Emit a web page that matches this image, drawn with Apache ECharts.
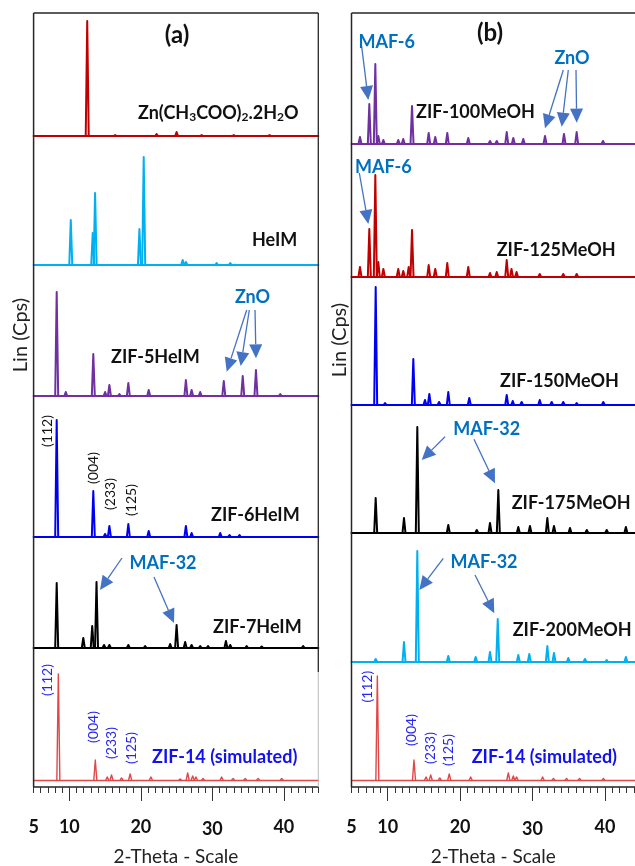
<!DOCTYPE html>
<html>
<head>
<meta charset="utf-8">
<script src="https://cdn.jsdelivr.net/npm/echarts@6/dist/echarts.min.js"></script>
<style>
html,body{margin:0;padding:0;background:#fff;}
#chart{width:635px;height:866px;}
</style>
</head>
<body>
<div id="chart"></div>
<script>
// ---------- DATA: peaks as [2-theta (deg), relative intensity] ----------
// Panel (a)
const zincAcetate = [[12.5,115],[16.4,1],[22.2,2],[25.0,4],[28.5,1],[33.0,1],[38.0,1]];
const heim = [[10.2,45],[13.27,32],[13.6,72],[19.8,36],[20.4,108],[25.85,5],[26.3,3],[30.6,2],[32.5,2]];
const zif5HeIM = [[8.23,104],[9.5,4],[13.35,42],[15.0,4],[15.6,11],[17.0,2],[18.25,13],[21.1,6],[26.3,16],[27.1,6],[28.3,4],[31.6,15],[34.25,20],[36.1,26],[39.5,2]];
const zif6HeIM = [[8.23,117],[13.35,46],[15.0,3],[15.6,11],[18.25,13],[21.1,6],[26.3,11],[27.1,4],[31.1,4],[32.4,2],[33.8,2]];
const zif7HeIM = [[8.23,65],[11.95,10],[13.2,22],[13.8,66],[14.85,3],[15.6,3],[18.25,3],[20.6,2],[24.1,4],[25.0,23],[26.2,6],[27.1,3],[28.3,2],[29.4,2],[31.9,7],[32.5,3],[34.8,2],[36.9,1.5],[42.7,2]];
const zif14SimA = [[8.46,106],[13.63,20],[15.3,3],[15.9,5],[17.3,2],[18.5,6],[21.4,3],[25.5,1],[26.55,7],[27.25,4],[27.7,3],[28.7,1.5],[31.3,3],[32.9,1.5],[34.6,1.5],[36.4,1.5],[39.7,1.5]];
// Panel (b)
const zif100MeOH = [[6.17,7],[7.46,40],[8.29,80],[8.7,8],[9.4,4],[11.46,4],[12.15,5],[13.36,38],[15.66,11],[16.57,7],[18.23,11],[21.13,6],[24.13,3],[25.06,3],[26.44,12],[27.35,6],[28.73,5],[31.73,8],[34.35,10],[36.1,12],[39.74,3]];
const zif125MeOH = [[6.17,10],[7.46,48],[8.29,102],[8.7,15],[9.4,8],[11.46,8],[12.15,6],[12.9,10],[13.36,47],[15.66,12],[16.57,8],[18.23,14],[21.13,10],[24.13,4],[25.06,5],[26.44,17],[27.1,8],[27.8,5],[31.0,3],[34.25,3],[36.1,3]];
const zif150MeOH = [[8.34,118],[9.63,2],[13.54,46],[15.15,5],[15.75,11],[17.1,3],[18.37,13],[21.27,7],[26.44,10],[27.27,4],[28.5,3],[31.0,5],[32.65,3],[34.25,3],[36.1,2],[39.78,3]];
const zif175MeOH = [[8.34,35],[12.25,15],[14.09,106],[18.37,8],[22.3,3],[24.13,10],[25.28,43],[28.04,6],[29.65,7],[32.05,15],[32.97,7],[35.18,5],[37.5,3],[40.25,3],[42.9,6]];
const zif200MeOH = [[8.34,3],[12.25,20],[14.09,111],[18.37,6],[22.15,5],[24.13,10],[25.2,43],[28.04,7],[29.56,8],[32.05,16],[32.97,9],[34.95,4],[37.25,3],[40.25,2],[42.9,5]];
const zif14SimB = [[8.57,104],[13.63,20],[15.3,3],[15.94,5],[17.2,2],[18.5,6],[21.46,3],[26.66,7],[27.35,4],[27.8,3],[31.4,3],[32.9,1.5],[34.7,1.5],[36.5,1.5],[39.8,1.5]];

const majorTicks = [10, 20, 30, 40];
const tickLabels = [5, 10, 20, 30, 40];
const hklLabels = ['(112)', '(004)', '(233)', '(125)'];

// ---------- LAYOUT ----------
const FONT = 'Lato';
const H = 130;
const panelA = {left: 33.6, width: 284.7, min: 5, max: 44.82};
const panelB = {left: 351.5, width: 283.5, min: 5, max: 44.16};
const AXIS_TOP = 13, AXIS_Y = 787;

const traces = [
  {data: zincAcetate, color: '#C00000', base: 136, panel: panelA, lw: 2},
  {data: heim, color: '#00B0F0', base: 265, panel: panelA, lw: 2},
  {data: zif5HeIM, color: '#7030A0', base: 396, panel: panelA, lw: 2},
  {data: zif6HeIM, color: '#0000F0', base: 537, panel: panelA, lw: 2},
  {data: zif7HeIM, color: '#000000', base: 648, panel: panelA, lw: 2},
  {data: zif14SimA, color: '#E04848', base: 780, panel: panelA, lw: 1.4},
  {data: zif100MeOH, color: '#7030A0', base: 144, panel: panelB, lw: 2},
  {data: zif125MeOH, color: '#C00000', base: 277, panel: panelB, lw: 2},
  {data: zif150MeOH, color: '#0000F0', base: 405, panel: panelB, lw: 2},
  {data: zif175MeOH, color: '#000000', base: 533, panel: panelB, lw: 2},
  {data: zif200MeOH, color: '#00B0F0', base: 662, panel: panelB, lw: 2},
  {data: zif14SimB, color: '#E04848', base: 780, panel: panelB, lw: 1.4}
];

const grids = [], xAxes = [], yAxes = [], series = [];

function peakRenderer(color, lw) {
  return function (params, api) {
    const b = api.coord([api.value(0), 0]);
    const t = api.coord([api.value(0), api.value(1)]);
    const hw = 1.5;
    return {
      type: 'polyline',
      shape: {points: [[b[0] - hw, b[1]], [t[0], t[1]], [b[0] + hw, b[1]]]},
      style: {stroke: color, lineWidth: lw, fill: null, lineJoin: 'round'}
    };
  };
}

traces.forEach((tr, i) => {
  grids.push({left: tr.panel.left, width: tr.panel.width, top: tr.base - H, height: H,
    containLabel: false, outerBoundsMode: 'none'});
  xAxes.push({
    type: 'value', gridIndex: i, min: tr.panel.min, max: tr.panel.max,
    axisLine: {show: true, onZero: false, lineStyle: {color: tr.color, width: tr.lw}},
    axisTick: {show: false}, axisLabel: {show: false}, splitLine: {show: false}
  });
  yAxes.push({type: 'value', gridIndex: i, min: 0, max: H, show: false});
  series.push({
    type: 'custom', xAxisIndex: i, yAxisIndex: i, data: tr.data,
    renderItem: peakRenderer(tr.color, tr.lw), silent: true, clip: false, z: 3
  });
});

const labelRich = {
  n: {fontFamily: FONT, fontWeight: 'bold', fontSize: 18, color: '#111'},
  low: {fontFamily: FONT, fontWeight: 'bold', fontSize: 18, color: '#111', padding: [2, 0, 0, 0]}
};

// bottom axes (one grid per panel, two x axes: minor + major)
[panelA, panelB].forEach(p => {
  const g = grids.length;
  grids.push({left: p.left, width: p.width, top: AXIS_TOP, height: AXIS_Y - AXIS_TOP,
    containLabel: false, outerBoundsMode: 'none'});
  yAxes.push({type: 'value', gridIndex: g, min: 0, max: 1, show: false});
  xAxes.push({
    type: 'value', gridIndex: g, min: p.min, max: p.max, interval: 1, position: 'bottom',
    axisLine: {show: true, onZero: false, lineStyle: {color: '#222', width: 1.5}},
    axisTick: {show: true, length: 6, lineStyle: {color: '#333', width: 1}},
    axisLabel: {show: false}, splitLine: {show: false},
    name: '2-Theta - Scale', nameLocation: 'middle', nameGap: 60,
    nameTextStyle: {fontFamily: FONT, fontSize: 19, color: '#222'}
  });
  xAxes.push({
    type: 'value', gridIndex: g, min: p.min, max: p.max, position: 'bottom',
    axisLine: {show: false, onZero: false},
    axisTick: {show: true, length: 14, customValues: majorTicks, lineStyle: {color: '#333', width: 1}},
    axisLabel: {show: true, customValues: tickLabels, margin: 31, fontFamily: FONT, fontWeight: 'bold', fontSize: 18, color: '#111',
      formatter: v => (v === 30 ? '{low|' + v + '}' : '{n|' + v + '}'), rich: labelRich},
    splitLine: {show: false}
  });
});

// ---------- ANNOTATIONS ----------
const graphics = [];
function line(x1, y1, x2, y2, color, w) {
  graphics.push({type: 'line', shape: {x1, y1, x2, y2}, style: {stroke: color, lineWidth: w}, z: 5, silent: true});
}
function text(x, y, str, o) {
  o = o || {};
  graphics.push({
    type: 'text', x, y, rotation: o.rot || 0, z: 10, silent: true,
    style: {
      text: str, fill: o.color || '#111', fontFamily: FONT, fontSize: o.size || 18,
      fontWeight: o.weight || 'bold', align: o.align || 'left', verticalAlign: 'middle',
      rich: o.rich
    }
  });
}
function arrow(sx, sy, tx, ty) {
  const dx = tx - sx, dy = ty - sy, L = Math.hypot(dx, dy);
  const ux = dx / L, uy = dy / L, len = 14, hw = 6.5;
  const bx = tx - ux * len, by = ty - uy * len;
  graphics.push({type: 'line', shape: {x1: sx, y1: sy, x2: bx, y2: by}, style: {stroke: '#4472C4', lineWidth: 1.3}, z: 9, silent: true});
  graphics.push({type: 'polygon', shape: {points: [[tx, ty], [bx - uy * hw, by + ux * hw], [bx + uy * hw, by - ux * hw]]}, style: {fill: '#4472C4'}, z: 9, silent: true});
}

// frames
const FR = '#262626';
line(33.6, 13, 318.3, 13, FR, 1.3);
line(33.6, 13, 33.6, 787, FR, 1.5);
line(318.3, 13, 318.3, 672, FR, 1.3);
line(318.3, 672, 318.3, 787, '#bbbbbb', 1);
line(351.5, 13, 635, 13, FR, 1.3);
line(351.5, 13, 351.5, 787, FR, 1.5);

// panel (a)
text(177, 35, '(a)', {size: 24, align: 'center'});
text(138, 113, 'Zn(CH{s|3}COO){s|2}.2H{s|2}O', {rich: {s: {fontFamily: FONT, fontWeight: 'bold', fontSize: 12, fill: '#111', padding: [9, 0, 0, 0]}}});
text(252, 240, 'HeIM');
text(111, 357, 'ZIF-5HeIM');
text(211, 515, 'ZIF-6HeIM');
text(213, 627, 'ZIF-7HeIM');
text(152, 757, 'ZIF-14 (simulated)', {color: '#1010F0'});
text(252.5, 297, 'ZnO', {color: '#0070C0', align: 'center'});
text(163, 563, 'MAF-32', {color: '#0070C0', align: 'center'});
text(21, 335, 'Lin (Cps)', {size: 20, weight: 'normal', align: 'center', rot: Math.PI / 2, color: '#222'});
[[47, 431], [93, 468], [110, 494], [131, 500]].forEach((p, k) =>
  text(p[0], p[1], hklLabels[k], {size: 14, weight: 'normal', align: 'center', rot: Math.PI / 2, color: '#111'}));
[[47, 680], [93, 727], [111, 743], [131, 748]].forEach((p, k) =>
  text(p[0], p[1], hklLabels[k], {size: 14, weight: 'normal', align: 'center', rot: Math.PI / 2, color: '#2525F5'}));
arrow(246.7, 310, 226.7, 371.7);
arrow(249.3, 310, 240.7, 366);
arrow(255, 310, 256, 358.3);
arrow(122, 558, 100, 590);
arrow(154, 577, 174, 623);

// panel (b)
text(490, 33, '(b)', {size: 24, align: 'center'});
text(386.7, 41.7, 'MAF-6', {color: '#0070C0', align: 'center'});
text(383.3, 166.7, 'MAF-6', {color: '#0070C0', align: 'center'});
text(572, 58, 'ZnO', {color: '#0070C0', align: 'center'});
text(416, 112, 'ZIF-100MeOH');
text(496.7, 250, 'ZIF-125MeOH');
text(500, 381, 'ZIF-150MeOH');
text(511.7, 503, 'ZIF-175MeOH');
text(512.7, 630, 'ZIF-200MeOH');
text(486.7, 429, 'MAF-32', {color: '#0070C0', align: 'center'});
text(484, 561.7, 'MAF-32', {color: '#0070C0', align: 'center'});
text(471.7, 757, 'ZIF-14 (simulated)', {color: '#1010F0'});
text(340, 340, 'Lin (Cps)', {size: 20, weight: 'normal', align: 'center', rot: Math.PI / 2, color: '#222'});
[[367.3, 686.7], [411.7, 730], [430, 748], [448.3, 750]].forEach((p, k) =>
  text(p[0], p[1], hklLabels[k], {size: 14, weight: 'normal', align: 'center', rot: Math.PI / 2, color: '#2525F5'}));
arrow(361.7, 46.7, 368.3, 100);
arrow(359.3, 173, 368.3, 224);
arrow(563.3, 70, 545, 128.3);
arrow(568.3, 70, 561.7, 126.7);
arrow(576, 70, 576.7, 122.7);
arrow(445, 436.7, 421.7, 460);
arrow(474, 439.3, 495, 483.3);
arrow(443.3, 558.3, 419.3, 590);
arrow(475, 575, 494.3, 613.3);

const chart = echarts.init(document.getElementById('chart'), null, {renderer: 'canvas'});
chart.setOption({
  animation: false,
  backgroundColor: '#ffffff',
  grid: grids, xAxis: xAxes, yAxis: yAxes, series: series, graphic: graphics
});
</script>
</body>
</html>
